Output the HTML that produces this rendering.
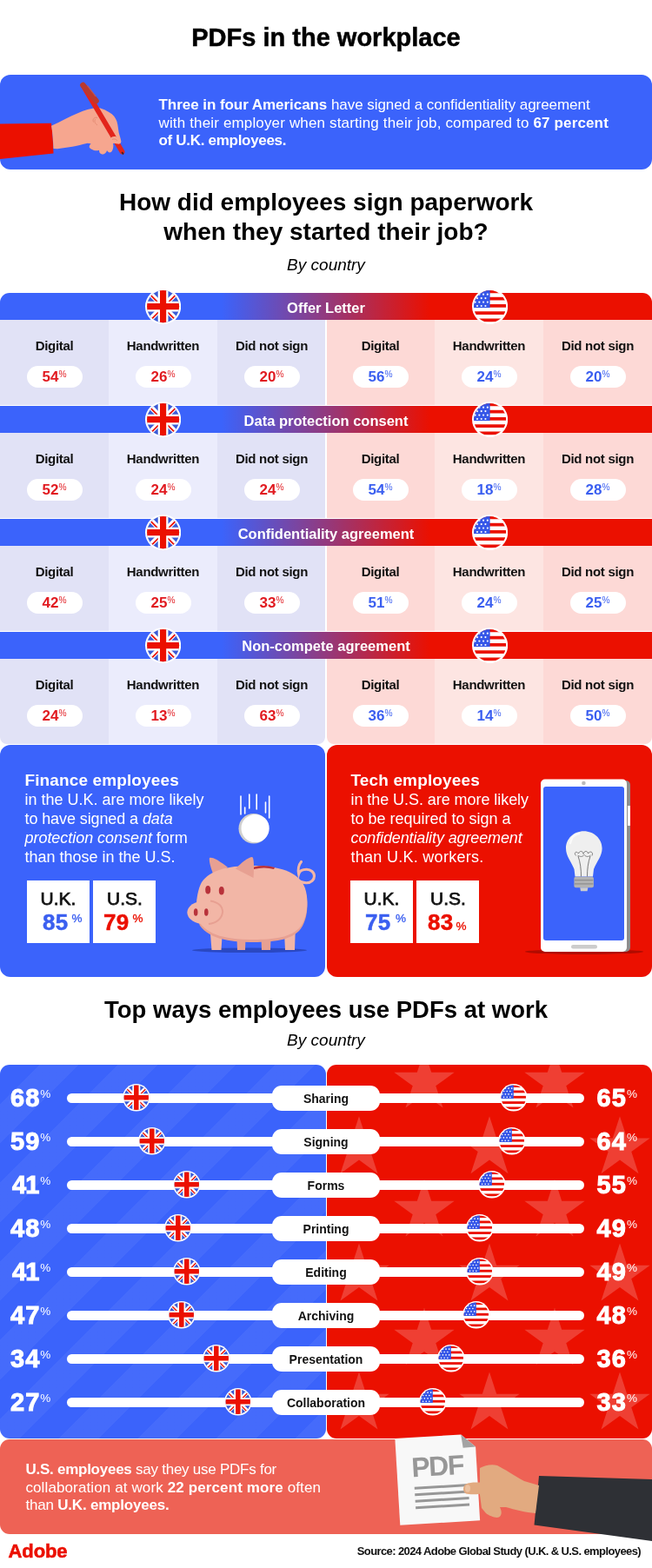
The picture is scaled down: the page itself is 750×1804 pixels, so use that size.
<!DOCTYPE html><html><head><meta charset="utf-8"><title>PDFs in the workplace</title><style>
html,body{margin:0;padding:0;background:#fff;} body{width:750px;height:1804px;position:relative;overflow:hidden;font-family:"Liberation Sans", Arial, sans-serif;} div{box-sizing:border-box;} sup{font-size:0.6em;vertical-align:0;position:relative;top:-0.55em;font-weight:400;}
</style></head><body>
<svg width="0" height="0" style="position:absolute"><defs><clipPath id="ukc"><circle r="18"/></clipPath></defs></svg>
<div style="position:absolute;left:25.0px;top:26.1px;width:700px;text-align:center;font-size:29px;line-height:35px;font-weight:700;font-style:normal;color:#000;letter-spacing:0px;white-space:nowrap;-webkit-text-stroke:0.5px #000;">PDFs in the workplace</div>
<div style="position:absolute;left:0;top:86px;width:750px;height:109px;background:#3b63fb;border-radius:12px;"></div>
<svg style="position:absolute;left:0;top:86px" width="160" height="109" viewBox="0 86 160 109"><path d="M0 142.5 L59 141.8 C60.5 152 61 164 61.5 176.5 L0 183 Z" fill="#eb1000"/><path d="M59 144.7 C70 140 80 134 90 130 C97 127 104 124.5 112.7 124 C118 124.5 124 128 128.7 131.3 C132.5 134.5 134.5 138.5 135.3 143.3 L136.7 152.7 C137.5 156 139 159.5 139.3 162.7 C139 165 137 166 135.3 165.5 L130 164.7 C131 168 130 172 128.7 174 C127.5 176 124.5 176 123 173 C122.5 176 119 178.5 116.7 177.3 C114.5 176.5 114 174.5 114 172.7 C112 173.5 108 173.5 106 172 C103.5 171 102.5 169.5 102.7 168.7 C103 167 104 166 104.7 165.3 L100.7 164.7 C95 166 88 168 83.3 168.7 L66 171.3 L61.5 171 C61 162 60.5 152 59 144.7 Z" fill="#f6a68f"/><path d="M107.5 140.5 C106 137 108.5 134.5 112 135.5 M112 144 C109 142 108 139 110 137" stroke="#e0866f" stroke-width="0.8" fill="none"/><path d="M96.5 100 L140.5 174.5" stroke="#e3241b" stroke-width="5.8" stroke-linecap="round"/><path d="M95.5 98 L110.5 116" stroke="#b9392f" stroke-width="6.6" stroke-linecap="round"/><path d="M100.5 98.5 L110 111" stroke="#c9564c" stroke-width="1.2"/><path d="M140.2 175 L142 177.5" stroke="#3a2020" stroke-width="1.6"/><path d="M128 158 C132 155.5 138 158 139.3 162.7 C139 165 137 166 135.3 165.5 L129 164.5 C126.5 162.5 126.5 159.5 128 158 Z" fill="#f6a68f"/><path d="M129 160.5 C131 159.5 134 160 135 162" stroke="#e0866f" stroke-width="0.8" fill="none"/></svg>
<div style="position:absolute;left:182.5px;top:111.1px;width:700px;text-align:left;font-size:17px;line-height:20px;font-weight:400;font-style:normal;color:#fff;letter-spacing:-0.05px;white-space:nowrap;"><b>Three in four Americans</b> have signed a confidentiality agreement</div>
<div style="position:absolute;left:182.5px;top:131.6px;width:700px;text-align:left;font-size:17px;line-height:20px;font-weight:400;font-style:normal;color:#fff;letter-spacing:0.15px;white-space:nowrap;">with their employer when starting their job, compared to <b>67 percent</b></div>
<div style="position:absolute;left:182.5px;top:152.1px;width:700px;text-align:left;font-size:17px;line-height:20px;font-weight:400;font-style:normal;color:#fff;letter-spacing:-0.3px;white-space:nowrap;"><b>of U.K. employees.</b></div>
<div style="position:absolute;left:25.0px;top:215.8px;width:700px;text-align:center;font-size:28px;line-height:34px;font-weight:700;font-style:normal;color:#000;letter-spacing:0px;white-space:nowrap;">How did employees sign paperwork</div>
<div style="position:absolute;left:25.0px;top:250.0px;width:700px;text-align:center;font-size:28px;line-height:34px;font-weight:700;font-style:normal;color:#000;letter-spacing:0px;white-space:nowrap;">when they started their job?</div>
<div style="position:absolute;left:225.0px;top:292.9px;width:300px;text-align:center;font-size:19px;line-height:23px;font-weight:400;font-style:italic;color:#000;letter-spacing:0px;white-space:nowrap;">By country</div>
<div style="position:absolute;left:0;top:337px;width:750px;height:31px;background:linear-gradient(90deg,#3b63fb 0%,#3b63fb 34%,#eb1000 66%,#eb1000 100%);border-radius:11px 11px 0 0;"></div>
<div style="position:absolute;left:175.0px;top:343.8px;width:400px;text-align:center;font-size:16.5px;line-height:20px;font-weight:700;font-style:normal;color:#fff;letter-spacing:0px;white-space:nowrap;">Offer Letter</div>
<div style="position:absolute;left:0px;top:368px;width:125px;height:98px;background:#e1e2f6;"></div>
<div style="position:absolute;left:0.0px;top:389.1px;width:125px;text-align:center;font-size:15px;line-height:18px;font-weight:700;font-style:normal;color:#111;letter-spacing:-0.3px;white-space:nowrap;">Digital</div>
<div style="position:absolute;left:30.5px;top:420.5px;width:64px;height:25px;border-radius:13px;background:#fff;"></div>
<div style="position:absolute;left:0.0px;top:424.3px;width:125px;text-align:center;font-size:17px;line-height:20px;font-weight:700;font-style:normal;color:#e11a20;letter-spacing:0px;white-space:nowrap;">54<sup>%</sup></div>
<div style="position:absolute;left:125px;top:368px;width:125px;height:98px;background:#ebecfc;"></div>
<div style="position:absolute;left:125.0px;top:389.1px;width:125px;text-align:center;font-size:15px;line-height:18px;font-weight:700;font-style:normal;color:#111;letter-spacing:-0.3px;white-space:nowrap;">Handwritten</div>
<div style="position:absolute;left:155.5px;top:420.5px;width:64px;height:25px;border-radius:13px;background:#fff;"></div>
<div style="position:absolute;left:125.0px;top:424.3px;width:125px;text-align:center;font-size:17px;line-height:20px;font-weight:700;font-style:normal;color:#e11a20;letter-spacing:0px;white-space:nowrap;">26<sup>%</sup></div>
<div style="position:absolute;left:250px;top:368px;width:124px;height:98px;background:#e1e2f6;"></div>
<div style="position:absolute;left:250.0px;top:389.1px;width:125px;text-align:center;font-size:15px;line-height:18px;font-weight:700;font-style:normal;color:#111;letter-spacing:-0.3px;white-space:nowrap;">Did not sign</div>
<div style="position:absolute;left:280.5px;top:420.5px;width:64px;height:25px;border-radius:13px;background:#fff;"></div>
<div style="position:absolute;left:250.0px;top:424.3px;width:125px;text-align:center;font-size:17px;line-height:20px;font-weight:700;font-style:normal;color:#e11a20;letter-spacing:0px;white-space:nowrap;">20<sup>%</sup></div>
<div style="position:absolute;left:376px;top:368px;width:124px;height:98px;background:#fdd9d6;"></div>
<div style="position:absolute;left:375.0px;top:389.1px;width:125px;text-align:center;font-size:15px;line-height:18px;font-weight:700;font-style:normal;color:#111;letter-spacing:-0.3px;white-space:nowrap;">Digital</div>
<div style="position:absolute;left:405.5px;top:420.5px;width:64px;height:25px;border-radius:13px;background:#fff;"></div>
<div style="position:absolute;left:375.0px;top:424.3px;width:125px;text-align:center;font-size:17px;line-height:20px;font-weight:700;font-style:normal;color:#3b5ff0;letter-spacing:0px;white-space:nowrap;">56<sup>%</sup></div>
<div style="position:absolute;left:500px;top:368px;width:125px;height:98px;background:#fde5e2;"></div>
<div style="position:absolute;left:500.0px;top:389.1px;width:125px;text-align:center;font-size:15px;line-height:18px;font-weight:700;font-style:normal;color:#111;letter-spacing:-0.3px;white-space:nowrap;">Handwritten</div>
<div style="position:absolute;left:530.5px;top:420.5px;width:64px;height:25px;border-radius:13px;background:#fff;"></div>
<div style="position:absolute;left:500.0px;top:424.3px;width:125px;text-align:center;font-size:17px;line-height:20px;font-weight:700;font-style:normal;color:#3b5ff0;letter-spacing:0px;white-space:nowrap;">24<sup>%</sup></div>
<div style="position:absolute;left:625px;top:368px;width:125px;height:98px;background:#fdd9d6;"></div>
<div style="position:absolute;left:625.0px;top:389.1px;width:125px;text-align:center;font-size:15px;line-height:18px;font-weight:700;font-style:normal;color:#111;letter-spacing:-0.3px;white-space:nowrap;">Did not sign</div>
<div style="position:absolute;left:655.5px;top:420.5px;width:64px;height:25px;border-radius:13px;background:#fff;"></div>
<div style="position:absolute;left:625.0px;top:424.3px;width:125px;text-align:center;font-size:17px;line-height:20px;font-weight:700;font-style:normal;color:#3b5ff0;letter-spacing:0px;white-space:nowrap;">20<sup>%</sup></div>
<svg style="position:absolute;left:167.2px;top:332.0px" width="41.2" height="41.2" viewBox="-20 -20 40 40"><circle r="20" fill="#fff"/><g clip-path="url(#ukc)"><rect x="-20" y="-20" width="40" height="40" fill="#3a5bd6"/><path d="M-20-20L20 20M20-20L-20 20" stroke="#fff" stroke-width="5.6"/><path d="M-20-18.8L0 1.2M20 -18.8L0 1.2M-20 21.2L0 1.2M20 21.2L0 1.2" stroke="#eb1000" stroke-width="1.7"/><path d="M0-20V20M-20 0H20" stroke="#fff" stroke-width="11.4"/><path d="M0-20V20M-20 0H20" stroke="#eb1000" stroke-width="7"/></g></svg>
<svg style="position:absolute;left:542.6px;top:332.0px" width="41.2" height="41.2" viewBox="-20 -20 40 40"><circle r="20" fill="#fff"/><g clip-path="url(#ukc)"><rect x="-20" y="-20" width="40" height="40" fill="#fff"/><rect x="-20" y="-18.5" width="40" height="3.6" fill="#eb1000"/><rect x="-20" y="-10.5" width="40" height="3.6" fill="#eb1000"/><rect x="-20" y="-2.5" width="40" height="3.6" fill="#eb1000"/><rect x="-20" y="5.5" width="40" height="3.6" fill="#eb1000"/><rect x="-20" y="13.5" width="40" height="3.6" fill="#eb1000"/><rect x="-20" y="-20" width="20" height="21.5" fill="#3556e8"/><circle cx="-16.5" cy="-13.5" r="1.05" fill="#fff"/><circle cx="-11.9" cy="-13.5" r="1.05" fill="#fff"/><circle cx="-7.3" cy="-13.5" r="1.05" fill="#fff"/><circle cx="-2.7" cy="-13.5" r="1.05" fill="#fff"/><circle cx="-14.2" cy="-9.2" r="1.05" fill="#fff"/><circle cx="-9.6" cy="-9.2" r="1.05" fill="#fff"/><circle cx="-5.0" cy="-9.2" r="1.05" fill="#fff"/><circle cx="-16.5" cy="-4.9" r="1.05" fill="#fff"/><circle cx="-11.9" cy="-4.9" r="1.05" fill="#fff"/><circle cx="-7.3" cy="-4.9" r="1.05" fill="#fff"/><circle cx="-2.7" cy="-4.9" r="1.05" fill="#fff"/><circle cx="-14.2" cy="-0.6" r="1.05" fill="#fff"/><circle cx="-9.6" cy="-0.6" r="1.05" fill="#fff"/><circle cx="-5.0" cy="-0.6" r="1.05" fill="#fff"/></g></svg>
<div style="position:absolute;left:0;top:467px;width:750px;height:31px;background:linear-gradient(90deg,#3b63fb 0%,#3b63fb 34%,#eb1000 66%,#eb1000 100%);"></div>
<div style="position:absolute;left:175.0px;top:474.3px;width:400px;text-align:center;font-size:16.5px;line-height:20px;font-weight:700;font-style:normal;color:#fff;letter-spacing:0px;white-space:nowrap;">Data protection consent</div>
<div style="position:absolute;left:0px;top:498px;width:125px;height:98px;background:#e1e2f6;"></div>
<div style="position:absolute;left:0.0px;top:519.1px;width:125px;text-align:center;font-size:15px;line-height:18px;font-weight:700;font-style:normal;color:#111;letter-spacing:-0.3px;white-space:nowrap;">Digital</div>
<div style="position:absolute;left:30.5px;top:550.5px;width:64px;height:25px;border-radius:13px;background:#fff;"></div>
<div style="position:absolute;left:0.0px;top:554.3px;width:125px;text-align:center;font-size:17px;line-height:20px;font-weight:700;font-style:normal;color:#e11a20;letter-spacing:0px;white-space:nowrap;">52<sup>%</sup></div>
<div style="position:absolute;left:125px;top:498px;width:125px;height:98px;background:#ebecfc;"></div>
<div style="position:absolute;left:125.0px;top:519.1px;width:125px;text-align:center;font-size:15px;line-height:18px;font-weight:700;font-style:normal;color:#111;letter-spacing:-0.3px;white-space:nowrap;">Handwritten</div>
<div style="position:absolute;left:155.5px;top:550.5px;width:64px;height:25px;border-radius:13px;background:#fff;"></div>
<div style="position:absolute;left:125.0px;top:554.3px;width:125px;text-align:center;font-size:17px;line-height:20px;font-weight:700;font-style:normal;color:#e11a20;letter-spacing:0px;white-space:nowrap;">24<sup>%</sup></div>
<div style="position:absolute;left:250px;top:498px;width:124px;height:98px;background:#e1e2f6;"></div>
<div style="position:absolute;left:250.0px;top:519.1px;width:125px;text-align:center;font-size:15px;line-height:18px;font-weight:700;font-style:normal;color:#111;letter-spacing:-0.3px;white-space:nowrap;">Did not sign</div>
<div style="position:absolute;left:280.5px;top:550.5px;width:64px;height:25px;border-radius:13px;background:#fff;"></div>
<div style="position:absolute;left:250.0px;top:554.3px;width:125px;text-align:center;font-size:17px;line-height:20px;font-weight:700;font-style:normal;color:#e11a20;letter-spacing:0px;white-space:nowrap;">24<sup>%</sup></div>
<div style="position:absolute;left:376px;top:498px;width:124px;height:98px;background:#fdd9d6;"></div>
<div style="position:absolute;left:375.0px;top:519.1px;width:125px;text-align:center;font-size:15px;line-height:18px;font-weight:700;font-style:normal;color:#111;letter-spacing:-0.3px;white-space:nowrap;">Digital</div>
<div style="position:absolute;left:405.5px;top:550.5px;width:64px;height:25px;border-radius:13px;background:#fff;"></div>
<div style="position:absolute;left:375.0px;top:554.3px;width:125px;text-align:center;font-size:17px;line-height:20px;font-weight:700;font-style:normal;color:#3b5ff0;letter-spacing:0px;white-space:nowrap;">54<sup>%</sup></div>
<div style="position:absolute;left:500px;top:498px;width:125px;height:98px;background:#fde5e2;"></div>
<div style="position:absolute;left:500.0px;top:519.1px;width:125px;text-align:center;font-size:15px;line-height:18px;font-weight:700;font-style:normal;color:#111;letter-spacing:-0.3px;white-space:nowrap;">Handwritten</div>
<div style="position:absolute;left:530.5px;top:550.5px;width:64px;height:25px;border-radius:13px;background:#fff;"></div>
<div style="position:absolute;left:500.0px;top:554.3px;width:125px;text-align:center;font-size:17px;line-height:20px;font-weight:700;font-style:normal;color:#3b5ff0;letter-spacing:0px;white-space:nowrap;">18<sup>%</sup></div>
<div style="position:absolute;left:625px;top:498px;width:125px;height:98px;background:#fdd9d6;"></div>
<div style="position:absolute;left:625.0px;top:519.1px;width:125px;text-align:center;font-size:15px;line-height:18px;font-weight:700;font-style:normal;color:#111;letter-spacing:-0.3px;white-space:nowrap;">Did not sign</div>
<div style="position:absolute;left:655.5px;top:550.5px;width:64px;height:25px;border-radius:13px;background:#fff;"></div>
<div style="position:absolute;left:625.0px;top:554.3px;width:125px;text-align:center;font-size:17px;line-height:20px;font-weight:700;font-style:normal;color:#3b5ff0;letter-spacing:0px;white-space:nowrap;">28<sup>%</sup></div>
<svg style="position:absolute;left:167.2px;top:462.0px" width="41.2" height="41.2" viewBox="-20 -20 40 40"><circle r="20" fill="#fff"/><g clip-path="url(#ukc)"><rect x="-20" y="-20" width="40" height="40" fill="#3a5bd6"/><path d="M-20-20L20 20M20-20L-20 20" stroke="#fff" stroke-width="5.6"/><path d="M-20-18.8L0 1.2M20 -18.8L0 1.2M-20 21.2L0 1.2M20 21.2L0 1.2" stroke="#eb1000" stroke-width="1.7"/><path d="M0-20V20M-20 0H20" stroke="#fff" stroke-width="11.4"/><path d="M0-20V20M-20 0H20" stroke="#eb1000" stroke-width="7"/></g></svg>
<svg style="position:absolute;left:542.6px;top:462.0px" width="41.2" height="41.2" viewBox="-20 -20 40 40"><circle r="20" fill="#fff"/><g clip-path="url(#ukc)"><rect x="-20" y="-20" width="40" height="40" fill="#fff"/><rect x="-20" y="-18.5" width="40" height="3.6" fill="#eb1000"/><rect x="-20" y="-10.5" width="40" height="3.6" fill="#eb1000"/><rect x="-20" y="-2.5" width="40" height="3.6" fill="#eb1000"/><rect x="-20" y="5.5" width="40" height="3.6" fill="#eb1000"/><rect x="-20" y="13.5" width="40" height="3.6" fill="#eb1000"/><rect x="-20" y="-20" width="20" height="21.5" fill="#3556e8"/><circle cx="-16.5" cy="-13.5" r="1.05" fill="#fff"/><circle cx="-11.9" cy="-13.5" r="1.05" fill="#fff"/><circle cx="-7.3" cy="-13.5" r="1.05" fill="#fff"/><circle cx="-2.7" cy="-13.5" r="1.05" fill="#fff"/><circle cx="-14.2" cy="-9.2" r="1.05" fill="#fff"/><circle cx="-9.6" cy="-9.2" r="1.05" fill="#fff"/><circle cx="-5.0" cy="-9.2" r="1.05" fill="#fff"/><circle cx="-16.5" cy="-4.9" r="1.05" fill="#fff"/><circle cx="-11.9" cy="-4.9" r="1.05" fill="#fff"/><circle cx="-7.3" cy="-4.9" r="1.05" fill="#fff"/><circle cx="-2.7" cy="-4.9" r="1.05" fill="#fff"/><circle cx="-14.2" cy="-0.6" r="1.05" fill="#fff"/><circle cx="-9.6" cy="-0.6" r="1.05" fill="#fff"/><circle cx="-5.0" cy="-0.6" r="1.05" fill="#fff"/></g></svg>
<div style="position:absolute;left:0;top:597px;width:750px;height:31px;background:linear-gradient(90deg,#3b63fb 0%,#3b63fb 34%,#eb1000 66%,#eb1000 100%);"></div>
<div style="position:absolute;left:175.0px;top:603.5px;width:400px;text-align:center;font-size:16.5px;line-height:20px;font-weight:700;font-style:normal;color:#fff;letter-spacing:0px;white-space:nowrap;">Confidentiality agreement</div>
<div style="position:absolute;left:0px;top:628px;width:125px;height:98px;background:#e1e2f6;"></div>
<div style="position:absolute;left:0.0px;top:649.1px;width:125px;text-align:center;font-size:15px;line-height:18px;font-weight:700;font-style:normal;color:#111;letter-spacing:-0.3px;white-space:nowrap;">Digital</div>
<div style="position:absolute;left:30.5px;top:680.5px;width:64px;height:25px;border-radius:13px;background:#fff;"></div>
<div style="position:absolute;left:0.0px;top:684.3px;width:125px;text-align:center;font-size:17px;line-height:20px;font-weight:700;font-style:normal;color:#e11a20;letter-spacing:0px;white-space:nowrap;">42<sup>%</sup></div>
<div style="position:absolute;left:125px;top:628px;width:125px;height:98px;background:#ebecfc;"></div>
<div style="position:absolute;left:125.0px;top:649.1px;width:125px;text-align:center;font-size:15px;line-height:18px;font-weight:700;font-style:normal;color:#111;letter-spacing:-0.3px;white-space:nowrap;">Handwritten</div>
<div style="position:absolute;left:155.5px;top:680.5px;width:64px;height:25px;border-radius:13px;background:#fff;"></div>
<div style="position:absolute;left:125.0px;top:684.3px;width:125px;text-align:center;font-size:17px;line-height:20px;font-weight:700;font-style:normal;color:#e11a20;letter-spacing:0px;white-space:nowrap;">25<sup>%</sup></div>
<div style="position:absolute;left:250px;top:628px;width:124px;height:98px;background:#e1e2f6;"></div>
<div style="position:absolute;left:250.0px;top:649.1px;width:125px;text-align:center;font-size:15px;line-height:18px;font-weight:700;font-style:normal;color:#111;letter-spacing:-0.3px;white-space:nowrap;">Did not sign</div>
<div style="position:absolute;left:280.5px;top:680.5px;width:64px;height:25px;border-radius:13px;background:#fff;"></div>
<div style="position:absolute;left:250.0px;top:684.3px;width:125px;text-align:center;font-size:17px;line-height:20px;font-weight:700;font-style:normal;color:#e11a20;letter-spacing:0px;white-space:nowrap;">33<sup>%</sup></div>
<div style="position:absolute;left:376px;top:628px;width:124px;height:98px;background:#fdd9d6;"></div>
<div style="position:absolute;left:375.0px;top:649.1px;width:125px;text-align:center;font-size:15px;line-height:18px;font-weight:700;font-style:normal;color:#111;letter-spacing:-0.3px;white-space:nowrap;">Digital</div>
<div style="position:absolute;left:405.5px;top:680.5px;width:64px;height:25px;border-radius:13px;background:#fff;"></div>
<div style="position:absolute;left:375.0px;top:684.3px;width:125px;text-align:center;font-size:17px;line-height:20px;font-weight:700;font-style:normal;color:#3b5ff0;letter-spacing:0px;white-space:nowrap;">51<sup>%</sup></div>
<div style="position:absolute;left:500px;top:628px;width:125px;height:98px;background:#fde5e2;"></div>
<div style="position:absolute;left:500.0px;top:649.1px;width:125px;text-align:center;font-size:15px;line-height:18px;font-weight:700;font-style:normal;color:#111;letter-spacing:-0.3px;white-space:nowrap;">Handwritten</div>
<div style="position:absolute;left:530.5px;top:680.5px;width:64px;height:25px;border-radius:13px;background:#fff;"></div>
<div style="position:absolute;left:500.0px;top:684.3px;width:125px;text-align:center;font-size:17px;line-height:20px;font-weight:700;font-style:normal;color:#3b5ff0;letter-spacing:0px;white-space:nowrap;">24<sup>%</sup></div>
<div style="position:absolute;left:625px;top:628px;width:125px;height:98px;background:#fdd9d6;"></div>
<div style="position:absolute;left:625.0px;top:649.1px;width:125px;text-align:center;font-size:15px;line-height:18px;font-weight:700;font-style:normal;color:#111;letter-spacing:-0.3px;white-space:nowrap;">Did not sign</div>
<div style="position:absolute;left:655.5px;top:680.5px;width:64px;height:25px;border-radius:13px;background:#fff;"></div>
<div style="position:absolute;left:625.0px;top:684.3px;width:125px;text-align:center;font-size:17px;line-height:20px;font-weight:700;font-style:normal;color:#3b5ff0;letter-spacing:0px;white-space:nowrap;">25<sup>%</sup></div>
<svg style="position:absolute;left:167.2px;top:592.0px" width="41.2" height="41.2" viewBox="-20 -20 40 40"><circle r="20" fill="#fff"/><g clip-path="url(#ukc)"><rect x="-20" y="-20" width="40" height="40" fill="#3a5bd6"/><path d="M-20-20L20 20M20-20L-20 20" stroke="#fff" stroke-width="5.6"/><path d="M-20-18.8L0 1.2M20 -18.8L0 1.2M-20 21.2L0 1.2M20 21.2L0 1.2" stroke="#eb1000" stroke-width="1.7"/><path d="M0-20V20M-20 0H20" stroke="#fff" stroke-width="11.4"/><path d="M0-20V20M-20 0H20" stroke="#eb1000" stroke-width="7"/></g></svg>
<svg style="position:absolute;left:542.6px;top:592.0px" width="41.2" height="41.2" viewBox="-20 -20 40 40"><circle r="20" fill="#fff"/><g clip-path="url(#ukc)"><rect x="-20" y="-20" width="40" height="40" fill="#fff"/><rect x="-20" y="-18.5" width="40" height="3.6" fill="#eb1000"/><rect x="-20" y="-10.5" width="40" height="3.6" fill="#eb1000"/><rect x="-20" y="-2.5" width="40" height="3.6" fill="#eb1000"/><rect x="-20" y="5.5" width="40" height="3.6" fill="#eb1000"/><rect x="-20" y="13.5" width="40" height="3.6" fill="#eb1000"/><rect x="-20" y="-20" width="20" height="21.5" fill="#3556e8"/><circle cx="-16.5" cy="-13.5" r="1.05" fill="#fff"/><circle cx="-11.9" cy="-13.5" r="1.05" fill="#fff"/><circle cx="-7.3" cy="-13.5" r="1.05" fill="#fff"/><circle cx="-2.7" cy="-13.5" r="1.05" fill="#fff"/><circle cx="-14.2" cy="-9.2" r="1.05" fill="#fff"/><circle cx="-9.6" cy="-9.2" r="1.05" fill="#fff"/><circle cx="-5.0" cy="-9.2" r="1.05" fill="#fff"/><circle cx="-16.5" cy="-4.9" r="1.05" fill="#fff"/><circle cx="-11.9" cy="-4.9" r="1.05" fill="#fff"/><circle cx="-7.3" cy="-4.9" r="1.05" fill="#fff"/><circle cx="-2.7" cy="-4.9" r="1.05" fill="#fff"/><circle cx="-14.2" cy="-0.6" r="1.05" fill="#fff"/><circle cx="-9.6" cy="-0.6" r="1.05" fill="#fff"/><circle cx="-5.0" cy="-0.6" r="1.05" fill="#fff"/></g></svg>
<div style="position:absolute;left:0;top:727px;width:750px;height:31px;background:linear-gradient(90deg,#3b63fb 0%,#3b63fb 34%,#eb1000 66%,#eb1000 100%);"></div>
<div style="position:absolute;left:175.0px;top:732.5px;width:400px;text-align:center;font-size:16.5px;line-height:20px;font-weight:700;font-style:normal;color:#fff;letter-spacing:0px;white-space:nowrap;">Non-compete agreement</div>
<div style="position:absolute;left:0px;top:758px;width:125px;height:98px;background:#e1e2f6;border-bottom-left-radius:8px;"></div>
<div style="position:absolute;left:0.0px;top:779.1px;width:125px;text-align:center;font-size:15px;line-height:18px;font-weight:700;font-style:normal;color:#111;letter-spacing:-0.3px;white-space:nowrap;">Digital</div>
<div style="position:absolute;left:30.5px;top:810.5px;width:64px;height:25px;border-radius:13px;background:#fff;"></div>
<div style="position:absolute;left:0.0px;top:814.3px;width:125px;text-align:center;font-size:17px;line-height:20px;font-weight:700;font-style:normal;color:#e11a20;letter-spacing:0px;white-space:nowrap;">24<sup>%</sup></div>
<div style="position:absolute;left:125px;top:758px;width:125px;height:98px;background:#ebecfc;"></div>
<div style="position:absolute;left:125.0px;top:779.1px;width:125px;text-align:center;font-size:15px;line-height:18px;font-weight:700;font-style:normal;color:#111;letter-spacing:-0.3px;white-space:nowrap;">Handwritten</div>
<div style="position:absolute;left:155.5px;top:810.5px;width:64px;height:25px;border-radius:13px;background:#fff;"></div>
<div style="position:absolute;left:125.0px;top:814.3px;width:125px;text-align:center;font-size:17px;line-height:20px;font-weight:700;font-style:normal;color:#e11a20;letter-spacing:0px;white-space:nowrap;">13<sup>%</sup></div>
<div style="position:absolute;left:250px;top:758px;width:124px;height:98px;background:#e1e2f6;border-bottom-right-radius:8px;"></div>
<div style="position:absolute;left:250.0px;top:779.1px;width:125px;text-align:center;font-size:15px;line-height:18px;font-weight:700;font-style:normal;color:#111;letter-spacing:-0.3px;white-space:nowrap;">Did not sign</div>
<div style="position:absolute;left:280.5px;top:810.5px;width:64px;height:25px;border-radius:13px;background:#fff;"></div>
<div style="position:absolute;left:250.0px;top:814.3px;width:125px;text-align:center;font-size:17px;line-height:20px;font-weight:700;font-style:normal;color:#e11a20;letter-spacing:0px;white-space:nowrap;">63<sup>%</sup></div>
<div style="position:absolute;left:376px;top:758px;width:124px;height:98px;background:#fdd9d6;border-bottom-left-radius:8px;"></div>
<div style="position:absolute;left:375.0px;top:779.1px;width:125px;text-align:center;font-size:15px;line-height:18px;font-weight:700;font-style:normal;color:#111;letter-spacing:-0.3px;white-space:nowrap;">Digital</div>
<div style="position:absolute;left:405.5px;top:810.5px;width:64px;height:25px;border-radius:13px;background:#fff;"></div>
<div style="position:absolute;left:375.0px;top:814.3px;width:125px;text-align:center;font-size:17px;line-height:20px;font-weight:700;font-style:normal;color:#3b5ff0;letter-spacing:0px;white-space:nowrap;">36<sup>%</sup></div>
<div style="position:absolute;left:500px;top:758px;width:125px;height:98px;background:#fde5e2;"></div>
<div style="position:absolute;left:500.0px;top:779.1px;width:125px;text-align:center;font-size:15px;line-height:18px;font-weight:700;font-style:normal;color:#111;letter-spacing:-0.3px;white-space:nowrap;">Handwritten</div>
<div style="position:absolute;left:530.5px;top:810.5px;width:64px;height:25px;border-radius:13px;background:#fff;"></div>
<div style="position:absolute;left:500.0px;top:814.3px;width:125px;text-align:center;font-size:17px;line-height:20px;font-weight:700;font-style:normal;color:#3b5ff0;letter-spacing:0px;white-space:nowrap;">14<sup>%</sup></div>
<div style="position:absolute;left:625px;top:758px;width:125px;height:98px;background:#fdd9d6;border-bottom-right-radius:8px;"></div>
<div style="position:absolute;left:625.0px;top:779.1px;width:125px;text-align:center;font-size:15px;line-height:18px;font-weight:700;font-style:normal;color:#111;letter-spacing:-0.3px;white-space:nowrap;">Did not sign</div>
<div style="position:absolute;left:655.5px;top:810.5px;width:64px;height:25px;border-radius:13px;background:#fff;"></div>
<div style="position:absolute;left:625.0px;top:814.3px;width:125px;text-align:center;font-size:17px;line-height:20px;font-weight:700;font-style:normal;color:#3b5ff0;letter-spacing:0px;white-space:nowrap;">50<sup>%</sup></div>
<svg style="position:absolute;left:167.2px;top:722.0px" width="41.2" height="41.2" viewBox="-20 -20 40 40"><circle r="20" fill="#fff"/><g clip-path="url(#ukc)"><rect x="-20" y="-20" width="40" height="40" fill="#3a5bd6"/><path d="M-20-20L20 20M20-20L-20 20" stroke="#fff" stroke-width="5.6"/><path d="M-20-18.8L0 1.2M20 -18.8L0 1.2M-20 21.2L0 1.2M20 21.2L0 1.2" stroke="#eb1000" stroke-width="1.7"/><path d="M0-20V20M-20 0H20" stroke="#fff" stroke-width="11.4"/><path d="M0-20V20M-20 0H20" stroke="#eb1000" stroke-width="7"/></g></svg>
<svg style="position:absolute;left:542.6px;top:722.0px" width="41.2" height="41.2" viewBox="-20 -20 40 40"><circle r="20" fill="#fff"/><g clip-path="url(#ukc)"><rect x="-20" y="-20" width="40" height="40" fill="#fff"/><rect x="-20" y="-18.5" width="40" height="3.6" fill="#eb1000"/><rect x="-20" y="-10.5" width="40" height="3.6" fill="#eb1000"/><rect x="-20" y="-2.5" width="40" height="3.6" fill="#eb1000"/><rect x="-20" y="5.5" width="40" height="3.6" fill="#eb1000"/><rect x="-20" y="13.5" width="40" height="3.6" fill="#eb1000"/><rect x="-20" y="-20" width="20" height="21.5" fill="#3556e8"/><circle cx="-16.5" cy="-13.5" r="1.05" fill="#fff"/><circle cx="-11.9" cy="-13.5" r="1.05" fill="#fff"/><circle cx="-7.3" cy="-13.5" r="1.05" fill="#fff"/><circle cx="-2.7" cy="-13.5" r="1.05" fill="#fff"/><circle cx="-14.2" cy="-9.2" r="1.05" fill="#fff"/><circle cx="-9.6" cy="-9.2" r="1.05" fill="#fff"/><circle cx="-5.0" cy="-9.2" r="1.05" fill="#fff"/><circle cx="-16.5" cy="-4.9" r="1.05" fill="#fff"/><circle cx="-11.9" cy="-4.9" r="1.05" fill="#fff"/><circle cx="-7.3" cy="-4.9" r="1.05" fill="#fff"/><circle cx="-2.7" cy="-4.9" r="1.05" fill="#fff"/><circle cx="-14.2" cy="-0.6" r="1.05" fill="#fff"/><circle cx="-9.6" cy="-0.6" r="1.05" fill="#fff"/><circle cx="-5.0" cy="-0.6" r="1.05" fill="#fff"/></g></svg>
<div style="position:absolute;left:0;top:857px;width:374px;height:266.7px;background:#3b63fb;border-radius:12px;"></div>
<div style="position:absolute;left:376px;top:857px;width:374px;height:266.7px;background:#eb1000;border-radius:12px;"></div>
<div style="position:absolute;left:28.5px;top:885.9px;width:700px;text-align:left;font-size:19px;line-height:23px;font-weight:400;font-style:normal;color:#fff;letter-spacing:0.12px;white-space:nowrap;"><b>Finance employees</b></div>
<div style="position:absolute;left:403.5px;top:885.9px;width:700px;text-align:left;font-size:19px;line-height:23px;font-weight:400;font-style:normal;color:#fff;letter-spacing:0.14px;white-space:nowrap;"><b>Tech employees</b></div>
<div style="position:absolute;left:28.5px;top:908.8px;width:700px;text-align:left;font-size:18px;line-height:22px;font-weight:400;font-style:normal;color:#fff;letter-spacing:0px;white-space:nowrap;">in the U.K. are more likely</div>
<div style="position:absolute;left:403.5px;top:908.8px;width:700px;text-align:left;font-size:18px;line-height:22px;font-weight:400;font-style:normal;color:#fff;letter-spacing:-0.06px;white-space:nowrap;">in the U.S. are more likely</div>
<div style="position:absolute;left:28.5px;top:930.8px;width:700px;text-align:left;font-size:18px;line-height:22px;font-weight:400;font-style:normal;color:#fff;letter-spacing:-0.1px;white-space:nowrap;">to have signed a <i>data</i></div>
<div style="position:absolute;left:403.5px;top:930.8px;width:700px;text-align:left;font-size:18px;line-height:22px;font-weight:400;font-style:normal;color:#fff;letter-spacing:0px;white-space:nowrap;">to be required to sign a</div>
<div style="position:absolute;left:28.5px;top:952.8px;width:700px;text-align:left;font-size:18px;line-height:22px;font-weight:400;font-style:normal;color:#fff;letter-spacing:-0.04px;white-space:nowrap;"><i>protection consent</i> form</div>
<div style="position:absolute;left:403.5px;top:952.8px;width:700px;text-align:left;font-size:18px;line-height:22px;font-weight:400;font-style:normal;color:#fff;letter-spacing:-0.12px;white-space:nowrap;"><i>confidentiality agreement</i></div>
<div style="position:absolute;left:28.5px;top:974.8px;width:700px;text-align:left;font-size:18px;line-height:22px;font-weight:400;font-style:normal;color:#fff;letter-spacing:0px;white-space:nowrap;">than those in the U.S.</div>
<div style="position:absolute;left:403.5px;top:974.8px;width:700px;text-align:left;font-size:18px;line-height:22px;font-weight:400;font-style:normal;color:#fff;letter-spacing:0.28px;white-space:nowrap;">than U.K. workers.</div>
<div style="position:absolute;left:30.5px;top:1013px;width:72px;height:71.5px;background:#fff;"></div>
<div style="position:absolute;left:31.0px;top:1021.0px;width:72px;text-align:center;font-size:21px;line-height:25px;font-weight:400;font-style:normal;color:#111;letter-spacing:0px;white-space:nowrap;-webkit-text-stroke:0.75px #111;">U.K.</div>
<div style="position:absolute;left:48.9px;top:1046.2px;width:60px;text-align:left;font-size:26px;line-height:31px;font-weight:700;font-style:normal;color:#3b5ff0;letter-spacing:0.3px;white-space:nowrap;-webkit-text-stroke:0.5px #3b5ff0;">85</div>
<div style="position:absolute;left:82.6px;top:1049.3px;width:30px;text-align:left;font-size:13.5px;line-height:16px;font-weight:400;font-style:normal;color:#3b5ff0;letter-spacing:0px;white-space:nowrap;-webkit-text-stroke:0.35px #3b5ff0;">%</div>
<div style="position:absolute;left:107px;top:1013px;width:72px;height:71.5px;background:#fff;"></div>
<div style="position:absolute;left:107.5px;top:1021.0px;width:72px;text-align:center;font-size:21px;line-height:25px;font-weight:400;font-style:normal;color:#111;letter-spacing:0px;white-space:nowrap;-webkit-text-stroke:0.75px #111;">U.S.</div>
<div style="position:absolute;left:118.9px;top:1046.2px;width:60px;text-align:left;font-size:26px;line-height:31px;font-weight:700;font-style:normal;color:#eb1000;letter-spacing:0.3px;white-space:nowrap;-webkit-text-stroke:0.5px #eb1000;">79</div>
<div style="position:absolute;left:152.6px;top:1049.3px;width:30px;text-align:left;font-size:13.5px;line-height:16px;font-weight:400;font-style:normal;color:#eb1000;letter-spacing:0px;white-space:nowrap;-webkit-text-stroke:0.35px #eb1000;">%</div>
<div style="position:absolute;left:402.5px;top:1013px;width:72px;height:71.5px;background:#fff;"></div>
<div style="position:absolute;left:403.0px;top:1021.0px;width:72px;text-align:center;font-size:21px;line-height:25px;font-weight:400;font-style:normal;color:#111;letter-spacing:0px;white-space:nowrap;-webkit-text-stroke:0.75px #111;">U.K.</div>
<div style="position:absolute;left:420.0px;top:1046.2px;width:60px;text-align:left;font-size:26px;line-height:31px;font-weight:700;font-style:normal;color:#3b5ff0;letter-spacing:0.3px;white-space:nowrap;-webkit-text-stroke:0.5px #3b5ff0;">75</div>
<div style="position:absolute;left:455.0px;top:1049.3px;width:30px;text-align:left;font-size:13.5px;line-height:16px;font-weight:400;font-style:normal;color:#3b5ff0;letter-spacing:0px;white-space:nowrap;-webkit-text-stroke:0.35px #3b5ff0;">%</div>
<div style="position:absolute;left:479px;top:1013px;width:72px;height:71.5px;background:#fff;"></div>
<div style="position:absolute;left:479.5px;top:1021.0px;width:72px;text-align:center;font-size:21px;line-height:25px;font-weight:400;font-style:normal;color:#111;letter-spacing:0px;white-space:nowrap;-webkit-text-stroke:0.75px #111;">U.S.</div>
<div style="position:absolute;left:491.9px;top:1046.2px;width:60px;text-align:left;font-size:26px;line-height:31px;font-weight:700;font-style:normal;color:#eb1000;letter-spacing:0.3px;white-space:nowrap;-webkit-text-stroke:0.5px #eb1000;">83</div>
<div style="position:absolute;left:524.6px;top:1057.8px;width:30px;text-align:left;font-size:13.5px;line-height:16px;font-weight:400;font-style:normal;color:#eb1000;letter-spacing:0px;white-space:nowrap;-webkit-text-stroke:0.35px #eb1000;">%</div>
<svg style="position:absolute;left:200px;top:900px" width="175" height="210" viewBox="200 900 175 210"><ellipse cx="287" cy="1093.3" rx="66" ry="2.8" fill="#2a48c2"/><g stroke="#fff" stroke-width="1.6" stroke-linecap="round"><path d="M277 916V937M281.7 929V936M286.8 914V930M295.2 914V931M305.5 923V935M309.7 916V941"/></g><circle cx="291.8" cy="953.2" r="17.3" fill="#cfcfcf"/><circle cx="293.6" cy="953" r="16.1" fill="#fff"/><path d="M272 1066 L283 1066 L282 1093 L273 1093 Z M300 1066 L312 1066 L311 1093 L301 1093 Z" fill="#e7a092"/><path d="M241 1062 L256.5 1062 L254.5 1093 L243.5 1093 Z M326.5 1062 L340 1062 L339 1093 L328 1093 Z" fill="#f2b6a6"/><path d="M340.5 1011 C344 1014 348 1015.8 352.7 1015.7 C358 1015.6 361.5 1012 361.5 1008 C361.5 1003.5 357.5 1000.3 352.7 1000.3 C348 1000.3 344.5 1002.5 343.6 1005.5 C342.5 1001 343.5 995 346.5 991.5" stroke="#f2b6a6" stroke-width="3.1" fill="none" stroke-linecap="round"/><path d="M241 987 C245 985 256 993 262 998 L246 1008 C243 1000 240 991 241 987 Z" fill="#e7a092"/><path d="M232 1019 C240 1006 258 999 290 999 C325 999 345 1008 351 1025 C356 1041 353 1061 344 1071 C332 1083 310 1084 288 1084 C262 1084 240 1079 230 1065 C224 1053 225 1031 232 1019 Z" fill="#e7a092"/><path d="M232 1015 C240 1003 258 996 290 996 C325 996 345 1005 351 1022 C356 1038 353 1058 344 1068 C332 1080 310 1081 288 1081 C262 1081 240 1076 230 1062 C224 1050 225 1028 232 1015 Z" fill="#f2b6a6"/><path d="M290 986 C292 986 292.5 996 291.5 1010 L271 999.5 C277 993 286 986 290 986 Z" fill="#e7a092"/><path d="M292 997.5 Q304 994.5 316 998 L315 1000 Q304 997 292 1000 Z" fill="#b8323a"/><ellipse cx="235.6" cy="1049.8" rx="20.3" ry="13.4" fill="#f2b6a6"/><path d="M242 1036.5 C252 1038 257 1044 256 1050 C255 1057 249 1062 240 1063" stroke="#e7a092" stroke-width="2" fill="none"/><ellipse cx="225.2" cy="1049.5" rx="2.3" ry="4.3" fill="#b8323a"/><ellipse cx="237.3" cy="1049.5" rx="2.3" ry="4.3" fill="#b8323a"/><ellipse cx="239.2" cy="1023.7" rx="3" ry="4.8" fill="#b8323a"/><ellipse cx="254.8" cy="1024.8" rx="3" ry="4.8" fill="#b8323a"/></svg>
<svg style="position:absolute;left:600px;top:880px" width="150" height="230" viewBox="600 880 150 230"><ellipse cx="672" cy="1095" rx="68" ry="3" fill="#b10b00"/><rect x="624" y="898" width="101" height="197" rx="5" fill="#8e8e8e"/><rect x="622" y="896.5" width="99" height="198.5" rx="5" fill="#fff"/><rect x="722" y="927" width="3" height="23" fill="#fff"/><rect x="625" y="905" width="93" height="177" rx="3" fill="#3b63fb"/><circle cx="671.4" cy="901" r="2.3" fill="#bbb"/><rect x="657" y="1087" width="30" height="4.5" rx="2.2" fill="#ccc"/><path d="M671.6 956.3 C660 956.3 651 965 651 976 C651 985 657 991 660.5 1000 L661.5 1008.5 L682 1008.5 L683 1000 C686.5 991 692.6 985 692.6 976 C692.6 965 683 956.3 671.6 956.3 Z" fill="#efefef"/><path d="M656 970 C657 964 661 960 666 959" stroke="#fafafa" stroke-width="2.5" fill="none" stroke-linecap="round"/><path d="M662.5 984.5 C659.5 981 663 978.5 665.5 982 C666.5 978.5 670.5 978.5 671 982.5 C672 978.5 676 978.5 676.5 982 C678.5 978.5 683 980 681 984.5 M664.5 984 C667.5 986 670 986 672 983.5 C674 986 677 986 679.5 984" stroke="#5a5a5a" stroke-width="0.7" fill="none"/><path d="M665 985 C667.5 992 668.5 1000 668.5 1008.5 M679 985 C676.5 992 675.5 1000 675.5 1008.5" stroke="#5a5a5a" stroke-width="0.8" fill="none"/><rect x="660.4" y="1008.7" width="22.5" height="12.6" rx="2" fill="#b3b3b3"/><path d="M661 1012.6H682.3M661 1016.9H682.3" stroke="#8e8e8e" stroke-width="1.1"/><path d="M667.2 1021.3 H676.4 L675.6 1025.2 H668 Z" fill="#cdcdcd"/></svg>
<div style="position:absolute;left:25.0px;top:1144.5px;width:700px;text-align:center;font-size:27.5px;line-height:33px;font-weight:700;font-style:normal;color:#000;letter-spacing:0px;white-space:nowrap;">Top ways employees use PDFs at work</div>
<div style="position:absolute;left:225.0px;top:1185.2px;width:300px;text-align:center;font-size:19px;line-height:23px;font-weight:400;font-style:italic;color:#000;letter-spacing:0px;white-space:nowrap;">By country</div>
<div style="position:absolute;left:0;top:1225px;width:374.5px;height:430px;border-radius:11px;background:#3b63fb repeating-linear-gradient(135deg, rgba(255,255,255,0) 0px, rgba(255,255,255,0) 32px, rgba(255,255,255,0.05) 32px, rgba(255,255,255,0.05) 64px);"></div>
<div style="position:absolute;left:375.5px;top:1225px;width:374.5px;height:430px;border-radius:11px;background:#eb1000;overflow:hidden;">
<svg style="position:absolute;left:0;top:0" width="375" height="430"><g fill="#fff" fill-opacity="0.2"><polygon points="112.0,-16.5 120.2,8.7 146.7,8.7 125.3,24.3 133.5,49.5 112.0,33.9 90.5,49.5 98.7,24.3 77.3,8.7 103.8,8.7"/><polygon points="262.0,-16.5 270.2,8.7 296.7,8.7 275.3,24.3 283.5,49.5 262.0,33.9 240.5,49.5 248.7,24.3 227.3,8.7 253.8,8.7"/><polygon points="37.0,59.2 45.2,84.4 71.7,84.4 50.3,100.0 58.5,125.2 37.0,109.6 15.5,125.2 23.7,100.0 2.3,84.4 28.8,84.4"/><polygon points="187.0,59.2 195.2,84.4 221.7,84.4 200.3,100.0 208.5,125.2 187.0,109.6 165.5,125.2 173.7,100.0 152.3,84.4 178.8,84.4"/><polygon points="337.0,59.2 345.2,84.4 371.7,84.4 350.3,100.0 358.5,125.2 337.0,109.6 315.5,125.2 323.7,100.0 302.3,84.4 328.8,84.4"/><polygon points="112.0,131.5 120.2,156.7 146.7,156.7 125.3,172.3 133.5,197.5 112.0,181.9 90.5,197.5 98.7,172.3 77.3,156.7 103.8,156.7"/><polygon points="262.0,131.5 270.2,156.7 296.7,156.7 275.3,172.3 283.5,197.5 262.0,181.9 240.5,197.5 248.7,172.3 227.3,156.7 253.8,156.7"/><polygon points="37.0,205.5 45.2,230.7 71.7,230.7 50.3,246.3 58.5,271.5 37.0,255.9 15.5,271.5 23.7,246.3 2.3,230.7 28.8,230.7"/><polygon points="187.0,205.5 195.2,230.7 221.7,230.7 200.3,246.3 208.5,271.5 187.0,255.9 165.5,271.5 173.7,246.3 152.3,230.7 178.8,230.7"/><polygon points="337.0,205.5 345.2,230.7 371.7,230.7 350.3,246.3 358.5,271.5 337.0,255.9 315.5,271.5 323.7,246.3 302.3,230.7 328.8,230.7"/><polygon points="112.0,279.5 120.2,304.7 146.7,304.7 125.3,320.3 133.5,345.5 112.0,329.9 90.5,345.5 98.7,320.3 77.3,304.7 103.8,304.7"/><polygon points="262.0,279.5 270.2,304.7 296.7,304.7 275.3,320.3 283.5,345.5 262.0,329.9 240.5,345.5 248.7,320.3 227.3,304.7 253.8,304.7"/><polygon points="37.0,353.5 45.2,378.7 71.7,378.7 50.3,394.3 58.5,419.5 37.0,403.9 15.5,419.5 23.7,394.3 2.3,378.7 28.8,378.7"/><polygon points="187.0,353.5 195.2,378.7 221.7,378.7 200.3,394.3 208.5,419.5 187.0,403.9 165.5,419.5 173.7,394.3 152.3,378.7 178.8,378.7"/><polygon points="337.0,353.5 345.2,378.7 371.7,378.7 350.3,394.3 358.5,419.5 337.0,403.9 315.5,419.5 323.7,394.3 302.3,378.7 328.8,378.7"/></g></svg>
</div>
<div style="position:absolute;left:76.8px;top:1258.2px;width:595.1px;height:11px;border-radius:5.5px;background:#fff;"></div>
<div style="position:absolute;left:313px;top:1249.2px;width:124px;height:29px;border-radius:11px;background:#fff;"></div>
<div style="position:absolute;left:310.0px;top:1255.5px;width:130px;text-align:center;font-size:14px;line-height:17px;font-weight:700;font-style:normal;color:#111;letter-spacing:0px;white-space:nowrap;">Sharing</div>
<svg style="position:absolute;left:140.7px;top:1247.4px" width="31.6" height="31.6" viewBox="-20 -20 40 40"><circle r="20" fill="#fff"/><g clip-path="url(#ukc)"><rect x="-20" y="-20" width="40" height="40" fill="#3a5bd6"/><path d="M-20-20L20 20M20-20L-20 20" stroke="#fff" stroke-width="5.6"/><path d="M-20-18.8L0 1.2M20 -18.8L0 1.2M-20 21.2L0 1.2M20 21.2L0 1.2" stroke="#eb1000" stroke-width="1.7"/><path d="M0-20V20M-20 0H20" stroke="#fff" stroke-width="11.4"/><path d="M0-20V20M-20 0H20" stroke="#eb1000" stroke-width="7"/></g></svg>
<svg style="position:absolute;left:575.2px;top:1247.4px" width="31.6" height="31.6" viewBox="-20 -20 40 40"><circle r="20" fill="#fff"/><g clip-path="url(#ukc)"><rect x="-20" y="-20" width="40" height="40" fill="#fff"/><rect x="-20" y="-18.5" width="40" height="3.6" fill="#eb1000"/><rect x="-20" y="-10.5" width="40" height="3.6" fill="#eb1000"/><rect x="-20" y="-2.5" width="40" height="3.6" fill="#eb1000"/><rect x="-20" y="5.5" width="40" height="3.6" fill="#eb1000"/><rect x="-20" y="13.5" width="40" height="3.6" fill="#eb1000"/><rect x="-20" y="-20" width="20" height="21.5" fill="#3556e8"/><circle cx="-16.5" cy="-13.5" r="1.05" fill="#fff"/><circle cx="-11.9" cy="-13.5" r="1.05" fill="#fff"/><circle cx="-7.3" cy="-13.5" r="1.05" fill="#fff"/><circle cx="-2.7" cy="-13.5" r="1.05" fill="#fff"/><circle cx="-14.2" cy="-9.2" r="1.05" fill="#fff"/><circle cx="-9.6" cy="-9.2" r="1.05" fill="#fff"/><circle cx="-5.0" cy="-9.2" r="1.05" fill="#fff"/><circle cx="-16.5" cy="-4.9" r="1.05" fill="#fff"/><circle cx="-11.9" cy="-4.9" r="1.05" fill="#fff"/><circle cx="-7.3" cy="-4.9" r="1.05" fill="#fff"/><circle cx="-2.7" cy="-4.9" r="1.05" fill="#fff"/><circle cx="-14.2" cy="-0.6" r="1.05" fill="#fff"/><circle cx="-9.6" cy="-0.6" r="1.05" fill="#fff"/><circle cx="-5.0" cy="-0.6" r="1.05" fill="#fff"/></g></svg>
<div style="position:absolute;left:-20.5px;top:1246.2px;width:80px;text-align:right;font-size:29px;line-height:35px;font-weight:700;font-style:normal;color:#fff;letter-spacing:1.2px;white-space:nowrap;-webkit-text-stroke:1px #fff;">68<sup style="font-size:13.5px;top:-9.8px;margin-left:-0.3px;-webkit-text-stroke:0">%</sup></div>
<div style="position:absolute;left:686.5px;top:1246.2px;width:80px;text-align:left;font-size:29px;line-height:35px;font-weight:700;font-style:normal;color:#fff;letter-spacing:1.2px;white-space:nowrap;-webkit-text-stroke:1px #fff;">65<sup style="font-size:13.5px;top:-9.8px;margin-left:-0.3px;-webkit-text-stroke:0">%</sup></div>
<div style="position:absolute;left:76.8px;top:1308.2px;width:595.1px;height:11px;border-radius:5.5px;background:#fff;"></div>
<div style="position:absolute;left:313px;top:1299.2px;width:124px;height:29px;border-radius:11px;background:#fff;"></div>
<div style="position:absolute;left:310.0px;top:1305.5px;width:130px;text-align:center;font-size:14px;line-height:17px;font-weight:700;font-style:normal;color:#111;letter-spacing:0px;white-space:nowrap;">Signing</div>
<svg style="position:absolute;left:159.2px;top:1297.4px" width="31.6" height="31.6" viewBox="-20 -20 40 40"><circle r="20" fill="#fff"/><g clip-path="url(#ukc)"><rect x="-20" y="-20" width="40" height="40" fill="#3a5bd6"/><path d="M-20-20L20 20M20-20L-20 20" stroke="#fff" stroke-width="5.6"/><path d="M-20-18.8L0 1.2M20 -18.8L0 1.2M-20 21.2L0 1.2M20 21.2L0 1.2" stroke="#eb1000" stroke-width="1.7"/><path d="M0-20V20M-20 0H20" stroke="#fff" stroke-width="11.4"/><path d="M0-20V20M-20 0H20" stroke="#eb1000" stroke-width="7"/></g></svg>
<svg style="position:absolute;left:573.2px;top:1297.4px" width="31.6" height="31.6" viewBox="-20 -20 40 40"><circle r="20" fill="#fff"/><g clip-path="url(#ukc)"><rect x="-20" y="-20" width="40" height="40" fill="#fff"/><rect x="-20" y="-18.5" width="40" height="3.6" fill="#eb1000"/><rect x="-20" y="-10.5" width="40" height="3.6" fill="#eb1000"/><rect x="-20" y="-2.5" width="40" height="3.6" fill="#eb1000"/><rect x="-20" y="5.5" width="40" height="3.6" fill="#eb1000"/><rect x="-20" y="13.5" width="40" height="3.6" fill="#eb1000"/><rect x="-20" y="-20" width="20" height="21.5" fill="#3556e8"/><circle cx="-16.5" cy="-13.5" r="1.05" fill="#fff"/><circle cx="-11.9" cy="-13.5" r="1.05" fill="#fff"/><circle cx="-7.3" cy="-13.5" r="1.05" fill="#fff"/><circle cx="-2.7" cy="-13.5" r="1.05" fill="#fff"/><circle cx="-14.2" cy="-9.2" r="1.05" fill="#fff"/><circle cx="-9.6" cy="-9.2" r="1.05" fill="#fff"/><circle cx="-5.0" cy="-9.2" r="1.05" fill="#fff"/><circle cx="-16.5" cy="-4.9" r="1.05" fill="#fff"/><circle cx="-11.9" cy="-4.9" r="1.05" fill="#fff"/><circle cx="-7.3" cy="-4.9" r="1.05" fill="#fff"/><circle cx="-2.7" cy="-4.9" r="1.05" fill="#fff"/><circle cx="-14.2" cy="-0.6" r="1.05" fill="#fff"/><circle cx="-9.6" cy="-0.6" r="1.05" fill="#fff"/><circle cx="-5.0" cy="-0.6" r="1.05" fill="#fff"/></g></svg>
<div style="position:absolute;left:-20.5px;top:1296.2px;width:80px;text-align:right;font-size:29px;line-height:35px;font-weight:700;font-style:normal;color:#fff;letter-spacing:1.2px;white-space:nowrap;-webkit-text-stroke:1px #fff;">59<sup style="font-size:13.5px;top:-9.8px;margin-left:-0.3px;-webkit-text-stroke:0">%</sup></div>
<div style="position:absolute;left:686.5px;top:1296.2px;width:80px;text-align:left;font-size:29px;line-height:35px;font-weight:700;font-style:normal;color:#fff;letter-spacing:1.2px;white-space:nowrap;-webkit-text-stroke:1px #fff;">64<sup style="font-size:13.5px;top:-9.8px;margin-left:-0.3px;-webkit-text-stroke:0">%</sup></div>
<div style="position:absolute;left:76.8px;top:1358.2px;width:595.1px;height:11px;border-radius:5.5px;background:#fff;"></div>
<div style="position:absolute;left:313px;top:1349.2px;width:124px;height:29px;border-radius:11px;background:#fff;"></div>
<div style="position:absolute;left:310.0px;top:1355.5px;width:130px;text-align:center;font-size:14px;line-height:17px;font-weight:700;font-style:normal;color:#111;letter-spacing:0px;white-space:nowrap;">Forms</div>
<svg style="position:absolute;left:199.2px;top:1347.4px" width="31.6" height="31.6" viewBox="-20 -20 40 40"><circle r="20" fill="#fff"/><g clip-path="url(#ukc)"><rect x="-20" y="-20" width="40" height="40" fill="#3a5bd6"/><path d="M-20-20L20 20M20-20L-20 20" stroke="#fff" stroke-width="5.6"/><path d="M-20-18.8L0 1.2M20 -18.8L0 1.2M-20 21.2L0 1.2M20 21.2L0 1.2" stroke="#eb1000" stroke-width="1.7"/><path d="M0-20V20M-20 0H20" stroke="#fff" stroke-width="11.4"/><path d="M0-20V20M-20 0H20" stroke="#eb1000" stroke-width="7"/></g></svg>
<svg style="position:absolute;left:550.2px;top:1347.4px" width="31.6" height="31.6" viewBox="-20 -20 40 40"><circle r="20" fill="#fff"/><g clip-path="url(#ukc)"><rect x="-20" y="-20" width="40" height="40" fill="#fff"/><rect x="-20" y="-18.5" width="40" height="3.6" fill="#eb1000"/><rect x="-20" y="-10.5" width="40" height="3.6" fill="#eb1000"/><rect x="-20" y="-2.5" width="40" height="3.6" fill="#eb1000"/><rect x="-20" y="5.5" width="40" height="3.6" fill="#eb1000"/><rect x="-20" y="13.5" width="40" height="3.6" fill="#eb1000"/><rect x="-20" y="-20" width="20" height="21.5" fill="#3556e8"/><circle cx="-16.5" cy="-13.5" r="1.05" fill="#fff"/><circle cx="-11.9" cy="-13.5" r="1.05" fill="#fff"/><circle cx="-7.3" cy="-13.5" r="1.05" fill="#fff"/><circle cx="-2.7" cy="-13.5" r="1.05" fill="#fff"/><circle cx="-14.2" cy="-9.2" r="1.05" fill="#fff"/><circle cx="-9.6" cy="-9.2" r="1.05" fill="#fff"/><circle cx="-5.0" cy="-9.2" r="1.05" fill="#fff"/><circle cx="-16.5" cy="-4.9" r="1.05" fill="#fff"/><circle cx="-11.9" cy="-4.9" r="1.05" fill="#fff"/><circle cx="-7.3" cy="-4.9" r="1.05" fill="#fff"/><circle cx="-2.7" cy="-4.9" r="1.05" fill="#fff"/><circle cx="-14.2" cy="-0.6" r="1.05" fill="#fff"/><circle cx="-9.6" cy="-0.6" r="1.05" fill="#fff"/><circle cx="-5.0" cy="-0.6" r="1.05" fill="#fff"/></g></svg>
<div style="position:absolute;left:-20.5px;top:1346.2px;width:80px;text-align:right;font-size:29px;line-height:35px;font-weight:700;font-style:normal;color:#fff;letter-spacing:1.2px;white-space:nowrap;-webkit-text-stroke:1px #fff;">4<span style="margin-left:-2px">1</span><sup style="font-size:13.5px;top:-9.8px;margin-left:-0.3px;-webkit-text-stroke:0">%</sup></div>
<div style="position:absolute;left:686.5px;top:1346.2px;width:80px;text-align:left;font-size:29px;line-height:35px;font-weight:700;font-style:normal;color:#fff;letter-spacing:1.2px;white-space:nowrap;-webkit-text-stroke:1px #fff;">55<sup style="font-size:13.5px;top:-9.8px;margin-left:-0.3px;-webkit-text-stroke:0">%</sup></div>
<div style="position:absolute;left:76.8px;top:1408.2px;width:595.1px;height:11px;border-radius:5.5px;background:#fff;"></div>
<div style="position:absolute;left:313px;top:1399.2px;width:124px;height:29px;border-radius:11px;background:#fff;"></div>
<div style="position:absolute;left:310.0px;top:1405.5px;width:130px;text-align:center;font-size:14px;line-height:17px;font-weight:700;font-style:normal;color:#111;letter-spacing:0px;white-space:nowrap;">Printing</div>
<svg style="position:absolute;left:189.2px;top:1397.4px" width="31.6" height="31.6" viewBox="-20 -20 40 40"><circle r="20" fill="#fff"/><g clip-path="url(#ukc)"><rect x="-20" y="-20" width="40" height="40" fill="#3a5bd6"/><path d="M-20-20L20 20M20-20L-20 20" stroke="#fff" stroke-width="5.6"/><path d="M-20-18.8L0 1.2M20 -18.8L0 1.2M-20 21.2L0 1.2M20 21.2L0 1.2" stroke="#eb1000" stroke-width="1.7"/><path d="M0-20V20M-20 0H20" stroke="#fff" stroke-width="11.4"/><path d="M0-20V20M-20 0H20" stroke="#eb1000" stroke-width="7"/></g></svg>
<svg style="position:absolute;left:535.7px;top:1397.4px" width="31.6" height="31.6" viewBox="-20 -20 40 40"><circle r="20" fill="#fff"/><g clip-path="url(#ukc)"><rect x="-20" y="-20" width="40" height="40" fill="#fff"/><rect x="-20" y="-18.5" width="40" height="3.6" fill="#eb1000"/><rect x="-20" y="-10.5" width="40" height="3.6" fill="#eb1000"/><rect x="-20" y="-2.5" width="40" height="3.6" fill="#eb1000"/><rect x="-20" y="5.5" width="40" height="3.6" fill="#eb1000"/><rect x="-20" y="13.5" width="40" height="3.6" fill="#eb1000"/><rect x="-20" y="-20" width="20" height="21.5" fill="#3556e8"/><circle cx="-16.5" cy="-13.5" r="1.05" fill="#fff"/><circle cx="-11.9" cy="-13.5" r="1.05" fill="#fff"/><circle cx="-7.3" cy="-13.5" r="1.05" fill="#fff"/><circle cx="-2.7" cy="-13.5" r="1.05" fill="#fff"/><circle cx="-14.2" cy="-9.2" r="1.05" fill="#fff"/><circle cx="-9.6" cy="-9.2" r="1.05" fill="#fff"/><circle cx="-5.0" cy="-9.2" r="1.05" fill="#fff"/><circle cx="-16.5" cy="-4.9" r="1.05" fill="#fff"/><circle cx="-11.9" cy="-4.9" r="1.05" fill="#fff"/><circle cx="-7.3" cy="-4.9" r="1.05" fill="#fff"/><circle cx="-2.7" cy="-4.9" r="1.05" fill="#fff"/><circle cx="-14.2" cy="-0.6" r="1.05" fill="#fff"/><circle cx="-9.6" cy="-0.6" r="1.05" fill="#fff"/><circle cx="-5.0" cy="-0.6" r="1.05" fill="#fff"/></g></svg>
<div style="position:absolute;left:-20.5px;top:1396.2px;width:80px;text-align:right;font-size:29px;line-height:35px;font-weight:700;font-style:normal;color:#fff;letter-spacing:1.2px;white-space:nowrap;-webkit-text-stroke:1px #fff;">48<sup style="font-size:13.5px;top:-9.8px;margin-left:-0.3px;-webkit-text-stroke:0">%</sup></div>
<div style="position:absolute;left:686.5px;top:1396.2px;width:80px;text-align:left;font-size:29px;line-height:35px;font-weight:700;font-style:normal;color:#fff;letter-spacing:1.2px;white-space:nowrap;-webkit-text-stroke:1px #fff;">49<sup style="font-size:13.5px;top:-9.8px;margin-left:-0.3px;-webkit-text-stroke:0">%</sup></div>
<div style="position:absolute;left:76.8px;top:1458.2px;width:595.1px;height:11px;border-radius:5.5px;background:#fff;"></div>
<div style="position:absolute;left:313px;top:1449.2px;width:124px;height:29px;border-radius:11px;background:#fff;"></div>
<div style="position:absolute;left:310.0px;top:1455.5px;width:130px;text-align:center;font-size:14px;line-height:17px;font-weight:700;font-style:normal;color:#111;letter-spacing:0px;white-space:nowrap;">Editing</div>
<svg style="position:absolute;left:199.2px;top:1447.4px" width="31.6" height="31.6" viewBox="-20 -20 40 40"><circle r="20" fill="#fff"/><g clip-path="url(#ukc)"><rect x="-20" y="-20" width="40" height="40" fill="#3a5bd6"/><path d="M-20-20L20 20M20-20L-20 20" stroke="#fff" stroke-width="5.6"/><path d="M-20-18.8L0 1.2M20 -18.8L0 1.2M-20 21.2L0 1.2M20 21.2L0 1.2" stroke="#eb1000" stroke-width="1.7"/><path d="M0-20V20M-20 0H20" stroke="#fff" stroke-width="11.4"/><path d="M0-20V20M-20 0H20" stroke="#eb1000" stroke-width="7"/></g></svg>
<svg style="position:absolute;left:535.7px;top:1447.4px" width="31.6" height="31.6" viewBox="-20 -20 40 40"><circle r="20" fill="#fff"/><g clip-path="url(#ukc)"><rect x="-20" y="-20" width="40" height="40" fill="#fff"/><rect x="-20" y="-18.5" width="40" height="3.6" fill="#eb1000"/><rect x="-20" y="-10.5" width="40" height="3.6" fill="#eb1000"/><rect x="-20" y="-2.5" width="40" height="3.6" fill="#eb1000"/><rect x="-20" y="5.5" width="40" height="3.6" fill="#eb1000"/><rect x="-20" y="13.5" width="40" height="3.6" fill="#eb1000"/><rect x="-20" y="-20" width="20" height="21.5" fill="#3556e8"/><circle cx="-16.5" cy="-13.5" r="1.05" fill="#fff"/><circle cx="-11.9" cy="-13.5" r="1.05" fill="#fff"/><circle cx="-7.3" cy="-13.5" r="1.05" fill="#fff"/><circle cx="-2.7" cy="-13.5" r="1.05" fill="#fff"/><circle cx="-14.2" cy="-9.2" r="1.05" fill="#fff"/><circle cx="-9.6" cy="-9.2" r="1.05" fill="#fff"/><circle cx="-5.0" cy="-9.2" r="1.05" fill="#fff"/><circle cx="-16.5" cy="-4.9" r="1.05" fill="#fff"/><circle cx="-11.9" cy="-4.9" r="1.05" fill="#fff"/><circle cx="-7.3" cy="-4.9" r="1.05" fill="#fff"/><circle cx="-2.7" cy="-4.9" r="1.05" fill="#fff"/><circle cx="-14.2" cy="-0.6" r="1.05" fill="#fff"/><circle cx="-9.6" cy="-0.6" r="1.05" fill="#fff"/><circle cx="-5.0" cy="-0.6" r="1.05" fill="#fff"/></g></svg>
<div style="position:absolute;left:-20.5px;top:1446.2px;width:80px;text-align:right;font-size:29px;line-height:35px;font-weight:700;font-style:normal;color:#fff;letter-spacing:1.2px;white-space:nowrap;-webkit-text-stroke:1px #fff;">4<span style="margin-left:-2px">1</span><sup style="font-size:13.5px;top:-9.8px;margin-left:-0.3px;-webkit-text-stroke:0">%</sup></div>
<div style="position:absolute;left:686.5px;top:1446.2px;width:80px;text-align:left;font-size:29px;line-height:35px;font-weight:700;font-style:normal;color:#fff;letter-spacing:1.2px;white-space:nowrap;-webkit-text-stroke:1px #fff;">49<sup style="font-size:13.5px;top:-9.8px;margin-left:-0.3px;-webkit-text-stroke:0">%</sup></div>
<div style="position:absolute;left:76.8px;top:1508.2px;width:595.1px;height:11px;border-radius:5.5px;background:#fff;"></div>
<div style="position:absolute;left:313px;top:1499.2px;width:124px;height:29px;border-radius:11px;background:#fff;"></div>
<div style="position:absolute;left:310.0px;top:1505.5px;width:130px;text-align:center;font-size:14px;line-height:17px;font-weight:700;font-style:normal;color:#111;letter-spacing:0px;white-space:nowrap;">Archiving</div>
<svg style="position:absolute;left:193.2px;top:1497.4px" width="31.6" height="31.6" viewBox="-20 -20 40 40"><circle r="20" fill="#fff"/><g clip-path="url(#ukc)"><rect x="-20" y="-20" width="40" height="40" fill="#3a5bd6"/><path d="M-20-20L20 20M20-20L-20 20" stroke="#fff" stroke-width="5.6"/><path d="M-20-18.8L0 1.2M20 -18.8L0 1.2M-20 21.2L0 1.2M20 21.2L0 1.2" stroke="#eb1000" stroke-width="1.7"/><path d="M0-20V20M-20 0H20" stroke="#fff" stroke-width="11.4"/><path d="M0-20V20M-20 0H20" stroke="#eb1000" stroke-width="7"/></g></svg>
<svg style="position:absolute;left:532.2px;top:1497.4px" width="31.6" height="31.6" viewBox="-20 -20 40 40"><circle r="20" fill="#fff"/><g clip-path="url(#ukc)"><rect x="-20" y="-20" width="40" height="40" fill="#fff"/><rect x="-20" y="-18.5" width="40" height="3.6" fill="#eb1000"/><rect x="-20" y="-10.5" width="40" height="3.6" fill="#eb1000"/><rect x="-20" y="-2.5" width="40" height="3.6" fill="#eb1000"/><rect x="-20" y="5.5" width="40" height="3.6" fill="#eb1000"/><rect x="-20" y="13.5" width="40" height="3.6" fill="#eb1000"/><rect x="-20" y="-20" width="20" height="21.5" fill="#3556e8"/><circle cx="-16.5" cy="-13.5" r="1.05" fill="#fff"/><circle cx="-11.9" cy="-13.5" r="1.05" fill="#fff"/><circle cx="-7.3" cy="-13.5" r="1.05" fill="#fff"/><circle cx="-2.7" cy="-13.5" r="1.05" fill="#fff"/><circle cx="-14.2" cy="-9.2" r="1.05" fill="#fff"/><circle cx="-9.6" cy="-9.2" r="1.05" fill="#fff"/><circle cx="-5.0" cy="-9.2" r="1.05" fill="#fff"/><circle cx="-16.5" cy="-4.9" r="1.05" fill="#fff"/><circle cx="-11.9" cy="-4.9" r="1.05" fill="#fff"/><circle cx="-7.3" cy="-4.9" r="1.05" fill="#fff"/><circle cx="-2.7" cy="-4.9" r="1.05" fill="#fff"/><circle cx="-14.2" cy="-0.6" r="1.05" fill="#fff"/><circle cx="-9.6" cy="-0.6" r="1.05" fill="#fff"/><circle cx="-5.0" cy="-0.6" r="1.05" fill="#fff"/></g></svg>
<div style="position:absolute;left:-20.5px;top:1496.2px;width:80px;text-align:right;font-size:29px;line-height:35px;font-weight:700;font-style:normal;color:#fff;letter-spacing:1.2px;white-space:nowrap;-webkit-text-stroke:1px #fff;">47<sup style="font-size:13.5px;top:-9.8px;margin-left:-0.3px;-webkit-text-stroke:0">%</sup></div>
<div style="position:absolute;left:686.5px;top:1496.2px;width:80px;text-align:left;font-size:29px;line-height:35px;font-weight:700;font-style:normal;color:#fff;letter-spacing:1.2px;white-space:nowrap;-webkit-text-stroke:1px #fff;">48<sup style="font-size:13.5px;top:-9.8px;margin-left:-0.3px;-webkit-text-stroke:0">%</sup></div>
<div style="position:absolute;left:76.8px;top:1558.2px;width:595.1px;height:11px;border-radius:5.5px;background:#fff;"></div>
<div style="position:absolute;left:313px;top:1549.2px;width:124px;height:29px;border-radius:11px;background:#fff;"></div>
<div style="position:absolute;left:310.0px;top:1555.5px;width:130px;text-align:center;font-size:14px;line-height:17px;font-weight:700;font-style:normal;color:#111;letter-spacing:0px;white-space:nowrap;">Presentation</div>
<svg style="position:absolute;left:232.7px;top:1547.4px" width="31.6" height="31.6" viewBox="-20 -20 40 40"><circle r="20" fill="#fff"/><g clip-path="url(#ukc)"><rect x="-20" y="-20" width="40" height="40" fill="#3a5bd6"/><path d="M-20-20L20 20M20-20L-20 20" stroke="#fff" stroke-width="5.6"/><path d="M-20-18.8L0 1.2M20 -18.8L0 1.2M-20 21.2L0 1.2M20 21.2L0 1.2" stroke="#eb1000" stroke-width="1.7"/><path d="M0-20V20M-20 0H20" stroke="#fff" stroke-width="11.4"/><path d="M0-20V20M-20 0H20" stroke="#eb1000" stroke-width="7"/></g></svg>
<svg style="position:absolute;left:503.2px;top:1547.4px" width="31.6" height="31.6" viewBox="-20 -20 40 40"><circle r="20" fill="#fff"/><g clip-path="url(#ukc)"><rect x="-20" y="-20" width="40" height="40" fill="#fff"/><rect x="-20" y="-18.5" width="40" height="3.6" fill="#eb1000"/><rect x="-20" y="-10.5" width="40" height="3.6" fill="#eb1000"/><rect x="-20" y="-2.5" width="40" height="3.6" fill="#eb1000"/><rect x="-20" y="5.5" width="40" height="3.6" fill="#eb1000"/><rect x="-20" y="13.5" width="40" height="3.6" fill="#eb1000"/><rect x="-20" y="-20" width="20" height="21.5" fill="#3556e8"/><circle cx="-16.5" cy="-13.5" r="1.05" fill="#fff"/><circle cx="-11.9" cy="-13.5" r="1.05" fill="#fff"/><circle cx="-7.3" cy="-13.5" r="1.05" fill="#fff"/><circle cx="-2.7" cy="-13.5" r="1.05" fill="#fff"/><circle cx="-14.2" cy="-9.2" r="1.05" fill="#fff"/><circle cx="-9.6" cy="-9.2" r="1.05" fill="#fff"/><circle cx="-5.0" cy="-9.2" r="1.05" fill="#fff"/><circle cx="-16.5" cy="-4.9" r="1.05" fill="#fff"/><circle cx="-11.9" cy="-4.9" r="1.05" fill="#fff"/><circle cx="-7.3" cy="-4.9" r="1.05" fill="#fff"/><circle cx="-2.7" cy="-4.9" r="1.05" fill="#fff"/><circle cx="-14.2" cy="-0.6" r="1.05" fill="#fff"/><circle cx="-9.6" cy="-0.6" r="1.05" fill="#fff"/><circle cx="-5.0" cy="-0.6" r="1.05" fill="#fff"/></g></svg>
<div style="position:absolute;left:-20.5px;top:1546.2px;width:80px;text-align:right;font-size:29px;line-height:35px;font-weight:700;font-style:normal;color:#fff;letter-spacing:1.2px;white-space:nowrap;-webkit-text-stroke:1px #fff;">34<sup style="font-size:13.5px;top:-9.8px;margin-left:-0.3px;-webkit-text-stroke:0">%</sup></div>
<div style="position:absolute;left:686.5px;top:1546.2px;width:80px;text-align:left;font-size:29px;line-height:35px;font-weight:700;font-style:normal;color:#fff;letter-spacing:1.2px;white-space:nowrap;-webkit-text-stroke:1px #fff;">36<sup style="font-size:13.5px;top:-9.8px;margin-left:-0.3px;-webkit-text-stroke:0">%</sup></div>
<div style="position:absolute;left:76.8px;top:1608.2px;width:595.1px;height:11px;border-radius:5.5px;background:#fff;"></div>
<div style="position:absolute;left:313px;top:1599.2px;width:124px;height:29px;border-radius:11px;background:#fff;"></div>
<div style="position:absolute;left:310.0px;top:1605.5px;width:130px;text-align:center;font-size:14px;line-height:17px;font-weight:700;font-style:normal;color:#111;letter-spacing:0px;white-space:nowrap;">Collaboration</div>
<svg style="position:absolute;left:257.7px;top:1597.4px" width="31.6" height="31.6" viewBox="-20 -20 40 40"><circle r="20" fill="#fff"/><g clip-path="url(#ukc)"><rect x="-20" y="-20" width="40" height="40" fill="#3a5bd6"/><path d="M-20-20L20 20M20-20L-20 20" stroke="#fff" stroke-width="5.6"/><path d="M-20-18.8L0 1.2M20 -18.8L0 1.2M-20 21.2L0 1.2M20 21.2L0 1.2" stroke="#eb1000" stroke-width="1.7"/><path d="M0-20V20M-20 0H20" stroke="#fff" stroke-width="11.4"/><path d="M0-20V20M-20 0H20" stroke="#eb1000" stroke-width="7"/></g></svg>
<svg style="position:absolute;left:481.7px;top:1597.4px" width="31.6" height="31.6" viewBox="-20 -20 40 40"><circle r="20" fill="#fff"/><g clip-path="url(#ukc)"><rect x="-20" y="-20" width="40" height="40" fill="#fff"/><rect x="-20" y="-18.5" width="40" height="3.6" fill="#eb1000"/><rect x="-20" y="-10.5" width="40" height="3.6" fill="#eb1000"/><rect x="-20" y="-2.5" width="40" height="3.6" fill="#eb1000"/><rect x="-20" y="5.5" width="40" height="3.6" fill="#eb1000"/><rect x="-20" y="13.5" width="40" height="3.6" fill="#eb1000"/><rect x="-20" y="-20" width="20" height="21.5" fill="#3556e8"/><circle cx="-16.5" cy="-13.5" r="1.05" fill="#fff"/><circle cx="-11.9" cy="-13.5" r="1.05" fill="#fff"/><circle cx="-7.3" cy="-13.5" r="1.05" fill="#fff"/><circle cx="-2.7" cy="-13.5" r="1.05" fill="#fff"/><circle cx="-14.2" cy="-9.2" r="1.05" fill="#fff"/><circle cx="-9.6" cy="-9.2" r="1.05" fill="#fff"/><circle cx="-5.0" cy="-9.2" r="1.05" fill="#fff"/><circle cx="-16.5" cy="-4.9" r="1.05" fill="#fff"/><circle cx="-11.9" cy="-4.9" r="1.05" fill="#fff"/><circle cx="-7.3" cy="-4.9" r="1.05" fill="#fff"/><circle cx="-2.7" cy="-4.9" r="1.05" fill="#fff"/><circle cx="-14.2" cy="-0.6" r="1.05" fill="#fff"/><circle cx="-9.6" cy="-0.6" r="1.05" fill="#fff"/><circle cx="-5.0" cy="-0.6" r="1.05" fill="#fff"/></g></svg>
<div style="position:absolute;left:-20.5px;top:1596.2px;width:80px;text-align:right;font-size:29px;line-height:35px;font-weight:700;font-style:normal;color:#fff;letter-spacing:1.2px;white-space:nowrap;-webkit-text-stroke:1px #fff;">27<sup style="font-size:13.5px;top:-9.8px;margin-left:-0.3px;-webkit-text-stroke:0">%</sup></div>
<div style="position:absolute;left:686.5px;top:1596.2px;width:80px;text-align:left;font-size:29px;line-height:35px;font-weight:700;font-style:normal;color:#fff;letter-spacing:1.2px;white-space:nowrap;-webkit-text-stroke:1px #fff;">33<sup style="font-size:13.5px;top:-9.8px;margin-left:-0.3px;-webkit-text-stroke:0">%</sup></div>
<div style="position:absolute;left:0;top:1656px;width:750px;height:109px;border-radius:11px;background:#ee6255;"></div>
<div style="position:absolute;left:29.4px;top:1681.1px;width:700px;text-align:left;font-size:17px;line-height:20px;font-weight:400;font-style:normal;color:#fff;letter-spacing:-0.25px;white-space:nowrap;"><b>U.S. employees</b> say they use PDFs for</div>
<div style="position:absolute;left:29.4px;top:1701.7px;width:700px;text-align:left;font-size:17px;line-height:20px;font-weight:400;font-style:normal;color:#fff;letter-spacing:0.12px;white-space:nowrap;">collaboration at work <b>22 percent more</b> often</div>
<div style="position:absolute;left:29.4px;top:1722.3px;width:700px;text-align:left;font-size:17px;line-height:20px;font-weight:400;font-style:normal;color:#fff;letter-spacing:-0.2px;white-space:nowrap;">than <b>U.K. employees.</b></div>
<svg style="position:absolute;left:440px;top:1630px" width="310" height="150" viewBox="440 1630 310 150"><path d="M620 1698 L750 1702 L750 1773 L614.5 1754.5 Z" fill="#2e3035"/><path d="M552 1689 C558 1686 565 1684 572 1686 C580 1690 592 1698 603 1704 L620 1709 L616 1741 C605 1740 592 1737 582 1734 L575 1734 C577 1738 578 1743 574 1745.5 C570 1747 563 1744 559 1741 L554 1735 L552 1720 Z" fill="#e2aa80"/><g transform="rotate(-3.4 506 1698)"><path d="M457 1652 L533 1652 L549 1667 L549 1752 L457 1752 Z" fill="#f8f8f8"/><path d="M533 1652 L534.5 1667.5 L549 1667 Z" fill="#a3a3a3"/><text x="474" y="1697.5" font-family="Liberation Sans, Arial, sans-serif" font-weight="700" font-size="32" letter-spacing="-1.5" fill="#979797">PDF</text><path d="M476 1710.5H538M476 1718H538M476 1725.5H538M476 1733H538" stroke="#979797" stroke-width="3"/></g><path d="M556 1706 C548 1705 540 1705.5 536 1707.5 C532 1710 532 1716 536 1718.5 C542 1720 552 1719 560 1718 Z" fill="#e2aa80"/><ellipse cx="538" cy="1712.5" rx="3" ry="4.2" fill="#ecc3a2"/></svg>
<div style="position:absolute;left:9.5px;top:1771.9px;width:200px;text-align:left;font-size:22px;line-height:26px;font-weight:700;font-style:normal;color:#eb1000;letter-spacing:-0.1px;white-space:nowrap;-webkit-text-stroke:0.6px #eb1000;">Adobe</div>
<div style="position:absolute;left:317.0px;top:1777.3px;width:420px;text-align:right;font-size:13px;line-height:16px;font-weight:700;font-style:normal;color:#111;letter-spacing:-0.6px;white-space:nowrap;">Source: 2024 Adobe Global Study (U.K. &amp; U.S. employees)</div>
</body></html>
